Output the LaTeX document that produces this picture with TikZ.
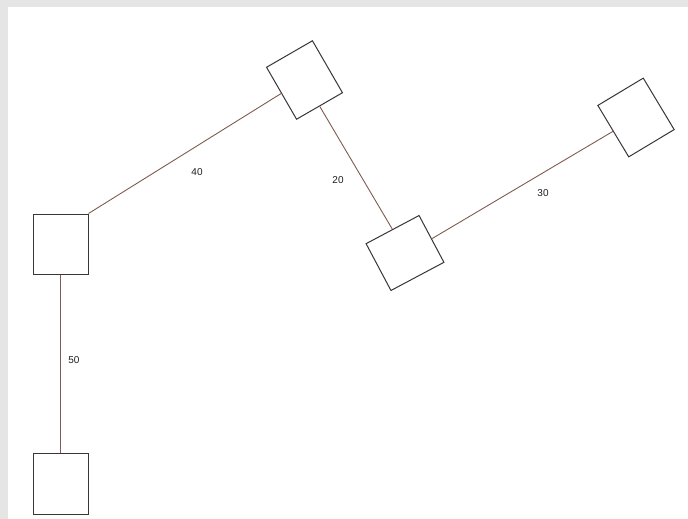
\documentclass[tikz,border=0pt]{standalone}
\usepackage{fontspec}
\setmainfont{Liberation Sans}
\definecolor{boxline}{RGB}{55,55,55}
\definecolor{linkcol}{RGB}{128,92,80}
\definecolor{lblcol}{RGB}{30,30,30}
\definecolor{frame}{RGB}{229,229,229}
\begin{document}
\begin{tikzpicture}[x=1pt,y=-1pt,
  box/.style={draw=boxline, line width=1pt, fill=white,
    minimum width=53pt, minimum height=60pt, inner sep=0pt},
  link/.style={draw=linkcol, line width=0.9pt},
  lbl/.style={font=\fontsize{10}{11}\selectfont, text=lblcol, inner sep=0pt}]
\fill[frame] (0,0) rectangle (688,519);
\fill[white] (7.5,7) rectangle (688,519);
\useasboundingbox (0,0) rectangle (688,519);
\node[box, minimum width=55pt, minimum height=60pt] (a) at (60.5,244) {};
\node[box, minimum width=55pt, minimum height=61pt] (e) at (60.5,483.5) {};
\node[box, rotate=30] (b) at (304.5,80) {};
\node[box, rotate=-62] (c) at (405,253) {};
\node[box, rotate=31] (d) at (636,117.5) {};
\draw[link] (a.north east) -- (b.west);
\draw[link] (b.south) -- (c.west);
\draw[link] (c.north) -- (d.west);
\draw[link] (a.south) -- (e.north);
\node[lbl] (l40) at (197,172) {40};
\node[lbl] (l20) at (338,180) {20};
\node[lbl] (l30) at (543,193) {30};
\node[lbl] (l50) at (74,360) {50};
\end{tikzpicture}
\end{document}
